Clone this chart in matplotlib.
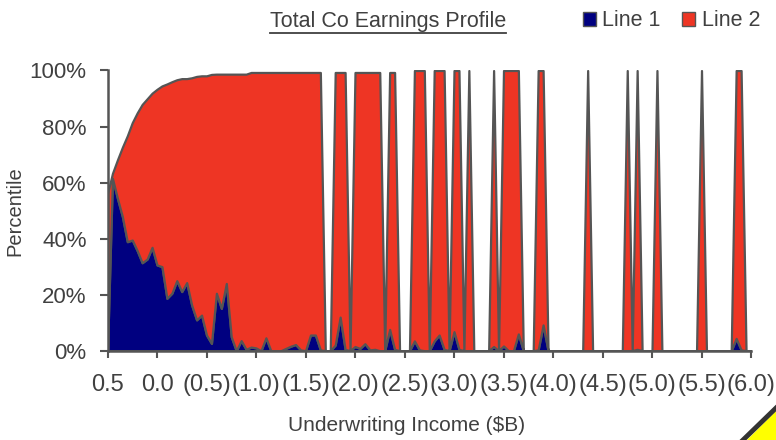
import matplotlib
matplotlib.use('Agg')
import matplotlib.pyplot as plt
from matplotlib.patches import Patch, Polygon
from matplotlib.lines import Line2D

plt.rcParams['font.family'] = ['Liberation Sans', 'DejaVu Sans']

# 131 categories: underwriting income from 0.5 down to (6.0), step 0.05
tick_labels = ['0.5', '0.0', '(0.5)', '(1.0)', '(1.5)', '(2.0)', '(2.5)',
               '(3.0)', '(3.5)', '(4.0)', '(4.5)', '(5.0)', '(5.5)', '(6.0)']

# percentiles (%)
line1 = [0, 61.5, 54.4, 47.9, 38.9, 39.5, 35.7, 31.4, 32.7, 36.9,
         30.6, 30.0, 18.7, 20.5, 25.0, 21.1, 24.3, 16.3, 11.0, 12.7,
         5.6, 2.6, 20.5, 15.1, 24.0, 5.0, 0, 3.6, 0.5, 1.3,
         1.0, 0, 4.6, 0, 0, 0, 0.8, 1.6, 2.2, 0.3,
         0, 5.6, 5.6, 0.3, 0, 0, 2.0, 12.0, 0.5, 0,
         1.5, 0.8, 2.5, 0.3, 0.5, 0, 0, 7.6, 0.5, 0,
         0, 0, 3.5, 0.3, 0, 0, 3.5, 5.6, 0.5, 0,
         6.8, 0.5, 0, 0, 0, 0, 0, 0, 1.5, 0,
         1.7, 0, 0, 6.0, 0, 0, 0, 0.3, 9.2, 0,
         0, 0, 0, 0, 0, 0, 0, 0, 0, 0,
         0, 0, 0, 0, 0, 0, 0, 0.5, 0, 0,
         0, 0, 0, 0, 0, 0, 0, 0, 0, 0,
         0, 0, 0, 0, 0, 0, 0, 4.4, 0.3, 0,
         0]

line2 = [56, 1.8, 13.7, 24.7, 37.8, 41.9, 49.2, 56.5, 57.2, 55.0,
         62.7, 64.5, 76.5, 75.5, 71.7, 76.0, 72.8, 81.1, 86.9, 85.4,
         92.5, 96.0, 78.2, 83.6, 74.7, 93.7, 98.7, 95.1, 98.2, 98.0,
         98.3, 99.3, 94.7, 99.3, 99.3, 99.3, 98.5, 97.7, 97.1, 99.0,
         99.3, 93.7, 93.7, 99.0, 0, 0, 97.3, 87.3, 98.8, 0,
         97.8, 98.5, 96.8, 99.0, 98.8, 99.3, 0, 91.7, 98.8, 0,
         0, 0, 96.5, 99.7, 100, 0, 96.5, 94.4, 99.5, 0,
         93.2, 99.5, 0, 100, 0, 0, 0, 0, 98.5, 0,
         98.3, 100, 100, 94.0, 0, 0, 0, 99.7, 90.8, 0,
         0, 0, 0, 0, 0, 0, 0, 100, 0, 0,
         0, 0, 0, 0, 0, 100, 0, 99.5, 0, 0,
         0, 100, 0, 0, 0, 0, 0, 0, 0, 0,
         100, 0, 0, 0, 0, 0, 0, 95.6, 99.7, 0,
         0]

x = list(range(len(line1)))
navy = '#000080'
red = '#EE3524'
edge = '#555555'
txt = '#404040'

W, H = 776, 440
fig = plt.figure(figsize=(W / 100, H / 100), dpi=100)
ax = fig.add_axes([107.5 / W, 1 - 350.7 / H, (751 - 107.5) / W, (350.7 - 70.5) / H])

ax.stackplot(x, line1, line2, colors=[navy, red], edgecolor=edge, linewidth=1.6)

ax.set_xlim(0, len(x) - 1)
ax.set_ylim(0, 100)
ax.set_xticks(range(0, len(x), 10))
ax.set_xticklabels(tick_labels)
ax.set_yticks(range(0, 101, 20))
ax.set_yticklabels(['%d%%' % v for v in range(0, 101, 20)])

for s in ['top', 'right']:
    ax.spines[s].set_visible(False)
for s in ['left', 'bottom']:
    ax.spines[s].set_color(edge)
    ax.spines[s].set_linewidth(1.8)
ax.tick_params(axis='x', length=5, width=1.5, color=edge, pad=12, labelsize=17, labelcolor=txt)
ax.tick_params(axis='y', length=6, width=1.5, color=edge, pad=9, labelsize=16, labelcolor=txt)

fig.text(15 / W, 1 - 211 / H, 'Percentile', fontsize=14.5, color=txt,
         rotation=90, ha='center', va='center')
fig.text(407 / W, 1 - 425 / H, 'Underwriting Income ($B)', fontsize=15, color=txt,
         ha='center', va='center')

# underlined title, centred on the chart area
t = fig.text(388 / W, 1 - 22 / H, 'Total Co Earnings Profile', fontsize=15.5, color=txt,
             ha='center', va='center')
fig.canvas.draw()
bb = t.get_window_extent()
fig.add_artist(Line2D([bb.x0 / W, bb.x1 / W], [(bb.y0 - 1) / H, (bb.y0 - 1) / H],
                      color=txt, lw=1.3, transform=fig.transFigure))

handles = [Patch(facecolor=navy, edgecolor=edge, label='Line 1'),
           Patch(facecolor=red, edgecolor=edge, label='Line 2')]
fig.legend(handles=handles, ncol=2, loc='center right', bbox_to_anchor=(771 / W, 1 - 21 / H),
           frameon=False, handlelength=0.6, handleheight=0.6, handletextpad=0.3,
           columnspacing=1.0, fontsize=15.5, labelcolor=txt, borderpad=0)

# yellow note corner at the bottom right
fig.add_artist(Polygon([(747 / W, 0), (1, 29 / H), (1, 0)], closed=True,
                       facecolor='#FFFF00', edgecolor='none',
                       transform=fig.transFigure, clip_on=False))
fig.add_artist(Line2D([743 / W, 1], [0, 32 / H], color='#333333', lw=3.5,
                      transform=fig.transFigure, clip_on=False))

fig.savefig('out.png', dpi=100)
